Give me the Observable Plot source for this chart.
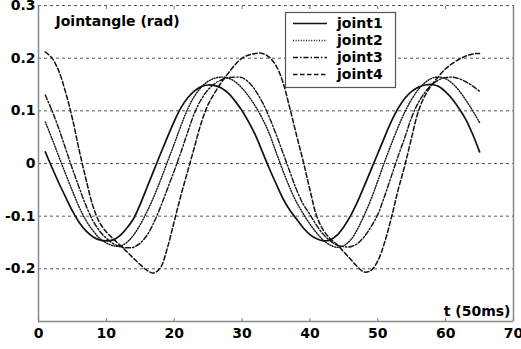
<!DOCTYPE html>
<html>
<head>
<meta charset="utf-8">
<script src="https://cdn.jsdelivr.net/npm/d3@7"></script>
<script src="https://cdn.jsdelivr.net/npm/@observablehq/plot@0.6"></script>
<style>
  body { margin: 0; background: white; }
</style>
</head>
<body>
<div id="chart"></div>
<script>
const t = d3.range(1, 66);
const seriesNames = ["joint1", "joint2", "joint3", "joint4"];
const joint1 = [
  0.022, -0.008, -0.037, -0.064, -0.090, -0.112, -0.128, -0.139, -0.145, -0.147,
  -0.145, -0.137, -0.123, -0.105, -0.077, -0.045, -0.013, 0.019, 0.050, 0.080,
  0.106, 0.125, 0.138, 0.146, 0.149, 0.148, 0.143, 0.133, 0.118, 0.100,
  0.078, 0.053, 0.022, -0.009, -0.038, -0.066, -0.088, -0.105, -0.122, -0.135,
  -0.143, -0.147, -0.145, -0.136, -0.120, -0.099, -0.073, -0.043, -0.012, 0.019,
  0.050, 0.080, 0.105, 0.124, 0.137, 0.145, 0.149, 0.150, 0.146, 0.136,
  0.122, 0.104, 0.083, 0.055, 0.022
];
const joint2 = [
  0.079, 0.047, 0.013, -0.020, -0.052, -0.083, -0.108, -0.127, -0.142, -0.151,
  -0.156, -0.157, -0.150, -0.136, -0.116, -0.091, -0.063, -0.031, 0.003, 0.037,
  0.072, 0.104, 0.128, 0.145, 0.156, 0.162, 0.164, 0.162, 0.155, 0.143,
  0.127, 0.108, 0.085, 0.057, 0.022, -0.013, -0.045, -0.073, -0.095, -0.115,
  -0.132, -0.146, -0.155, -0.159, -0.156, -0.145, -0.125, -0.098, -0.068, -0.033,
  0.003, 0.037, 0.069, 0.098, 0.122, 0.141, 0.154, 0.162, 0.164, 0.161,
  0.152, 0.138, 0.120, 0.100, 0.078
];
const joint3 = [
  0.130, 0.100, 0.066, 0.028, -0.010, -0.046, -0.080, -0.108, -0.128, -0.142,
  -0.152, -0.158, -0.160, -0.159, -0.151, -0.136, -0.112, -0.082, -0.048, -0.014,
  0.022, 0.060, 0.096, 0.122, 0.140, 0.152, 0.159, 0.163, 0.164, 0.163,
  0.154, 0.138, 0.116, 0.088, 0.056, 0.021, -0.014, -0.049, -0.077, -0.097,
  -0.118, -0.135, -0.147, -0.155, -0.158, -0.158, -0.152, -0.139, -0.120, -0.097,
  -0.062, -0.024, 0.014, 0.050, 0.088, 0.116, 0.136, 0.150, 0.159, 0.163,
  0.164, 0.161, 0.155, 0.147, 0.137
];
const joint4 = [
  0.212, 0.200, 0.175, 0.135, 0.085, 0.025, -0.030, -0.080, -0.112, -0.130,
  -0.143, -0.155, -0.167, -0.180, -0.192, -0.203, -0.208, -0.197, -0.160, -0.110,
  -0.060, -0.014, 0.032, 0.078, 0.112, 0.135, 0.155, 0.172, 0.188, 0.200,
  0.206, 0.209, 0.209, 0.202, 0.186, 0.155, 0.107, 0.055, 0.005, -0.050,
  -0.100, -0.127, -0.143, -0.154, -0.168, -0.182, -0.196, -0.206, -0.203, -0.185,
  -0.150, -0.103, -0.050, -0.003, 0.050, 0.100, 0.130, 0.150, 0.166, 0.180,
  0.190, 0.198, 0.204, 0.208, 0.209
];
const xTicks = [0, 10, 20, 30, 40, 50, 60, 70];
const yTicks = [-0.3, -0.2, -0.1, 0, 0.1, 0.2, 0.3];
const yLabelTicks = [-0.2, -0.1, 0, 0.1, 0.2, 0.3];
const yTickLabels = ["-0.2", "-0.1", "0", "0.1", "0.2", "0.3"];
const yTitle = "Jointangle (rad)";
const xTitle = "t (50ms)";

const allValues = [joint1, joint2, joint3, joint4];
const dashes = ["none", "1,1.6", "5,2,1.5,2", "4.5,2.5"];
const widths = [1.7, 1.4, 1.4, 1.5];

const tables = allValues.map((vals, i) => t.map((tt, j) => ({t: tt, v: vals[j], series: seriesNames[i]})));

const lineMarks = tables.map((tab, i) => Plot.line(tab, {
  x: "t", y: "v", stroke: "#111", strokeWidth: widths[i],
  strokeDasharray: dashes[i], curve: "catmull-rom"
}));

const plot = Plot.plot({
  width: 521,
  height: 349,
  marginLeft: 38,
  marginRight: 8,
  marginTop: 5,
  marginBottom: 28,
  style: {fontFamily: "DejaVu Sans", fontWeight: "bold", fontSize: "14px", background: "white", color: "black", overflow: "visible"},
  x: {domain: [0, 70]},
  y: {domain: [-0.3, 0.3]},
  marks: [
    Plot.ruleY(yTicks.slice(1), {stroke: "#555", strokeDasharray: "3,3", strokeWidth: 1}),
    Plot.ruleX([0, 70], {stroke: "#888", strokeWidth: 1.5}),
    Plot.ruleY([-0.3], {stroke: "#888", strokeWidth: 1.5}),
    Plot.axisX({anchor: "bottom", ticks: xTicks, tickSize: -3, stroke: "#777", label: null, text: null}),
    Plot.axisX({anchor: "top", ticks: xTicks, tickSize: -3, stroke: "#777", label: null, text: null}),
    Plot.axisX({anchor: "bottom", ticks: xTicks, tickSize: 0, tickPadding: 7, label: null, tickFormat: d => String(d)}),
    Plot.axisY({anchor: "left", ticks: yLabelTicks, tickSize: 0, tickPadding: 3, label: null,
      tickFormat: d => yTickLabels[yLabelTicks.findIndex(y => Math.abs(y - d) < 1e-9)]}),
    ...lineMarks,
    Plot.text([yTitle], {frameAnchor: "top-left", dx: 17, dy: 16, textAnchor: "start", lineAnchor: "middle", fill: "black"}),
    Plot.text([xTitle], {frameAnchor: "bottom-right", dx: -3, dy: -10, textAnchor: "end", lineAnchor: "middle", fill: "black"})
  ]
});

// legend
const g = d3.select(plot).append("g");
g.append("rect").attr("x", 285.5).attr("y", 12.5).attr("width", 110).attr("height", 75)
  .attr("fill", "white").attr("stroke", "#555").attr("stroke-width", 1.2);
seriesNames.forEach((name, i) => {
  const yy = 23.5 + i * 17;
  g.append("line").attr("x1", 293).attr("x2", 327).attr("y1", yy).attr("y2", yy)
    .attr("stroke", "#111").attr("stroke-width", widths[i])
    .attr("stroke-dasharray", dashes[i]);
  g.append("text").attr("x", 337).attr("y", yy).attr("dy", "0.35em")
    .attr("text-anchor", "start").attr("fill", "black").text(name);
});

document.getElementById("chart").append(plot);
</script>
</body>
</html>
